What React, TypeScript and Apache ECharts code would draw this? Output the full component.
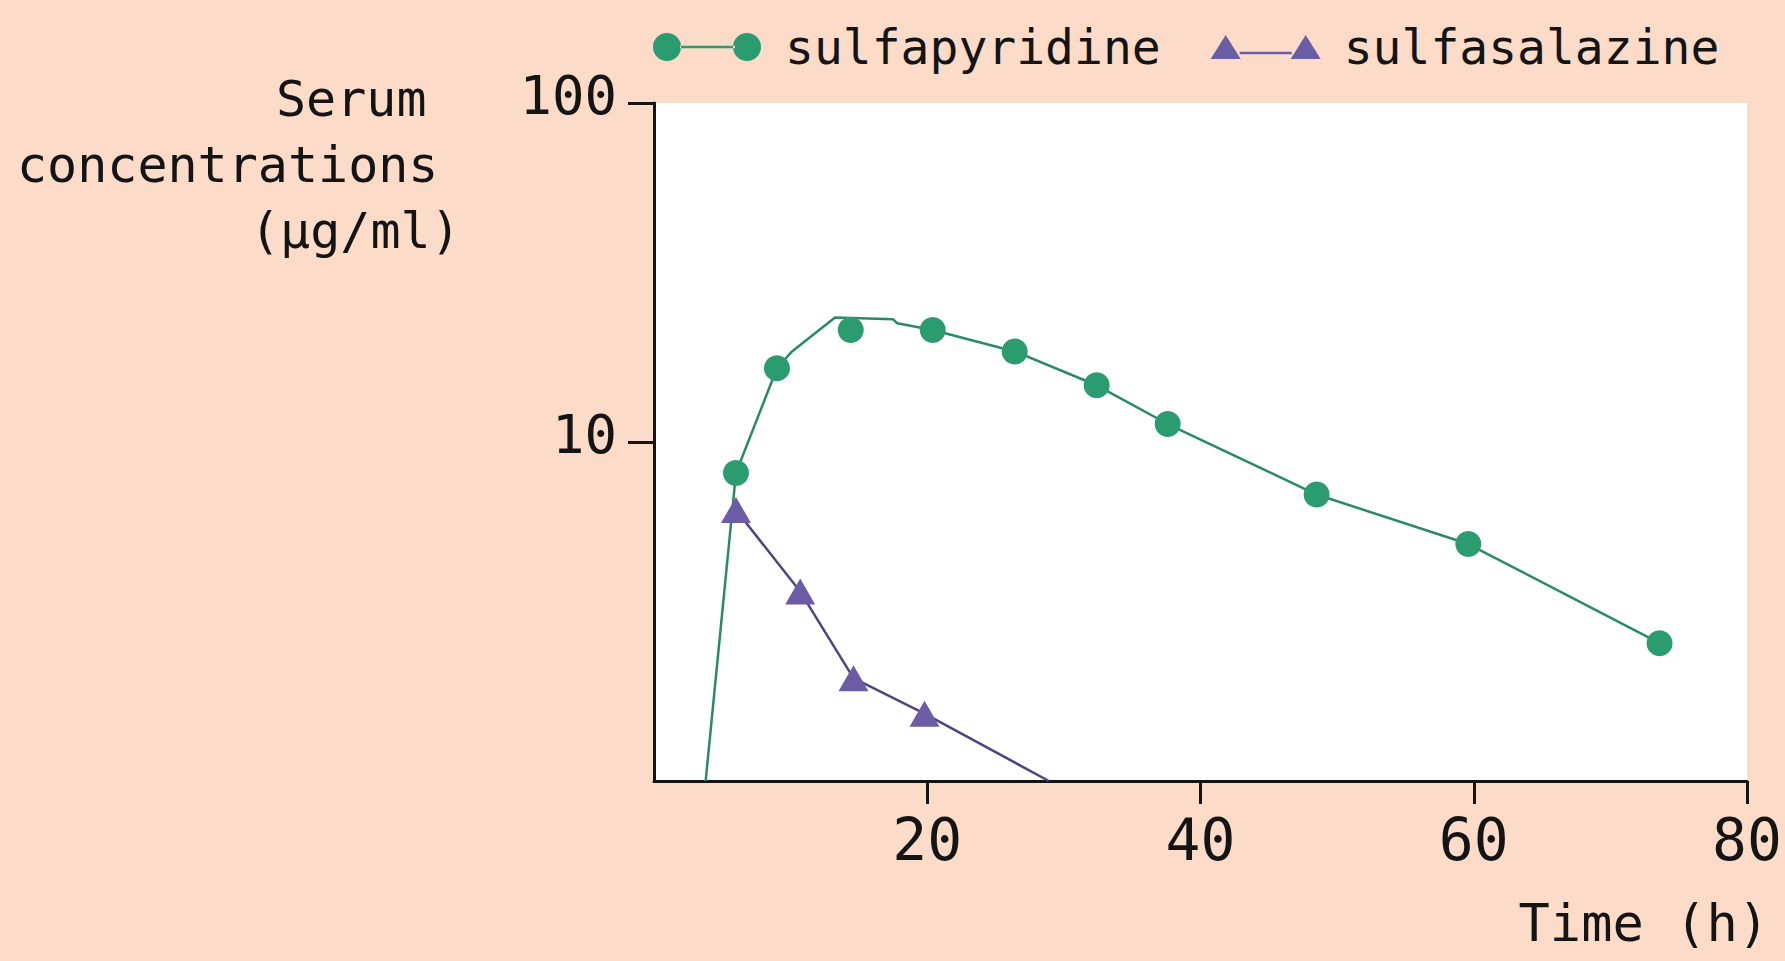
import React, { useEffect, useRef } from "react";
import * as echarts from "echarts";

// Observed concentrations (µg/ml) vs time (h)
const sulfapyridineTime = [6.0, 9.0, 14.4, 20.4, 26.4, 32.4, 37.6, 48.5, 59.6, 73.6];
const sulfapyridineConc = [8.1, 16.5, 21.4, 21.4, 18.5, 14.7, 11.3, 7.0, 5.0, 2.55];
// Connecting curve vertices
const sulfapyridineCurveTime = [3.78, 6.0, 9.0, 10.1, 13.25, 17.5, 17.8, 20.4, 26.4, 32.4, 37.6, 48.5, 59.6, 73.6];
const sulfapyridineCurveConc = [1.0, 8.1, 16.5, 18.5, 23.3, 23.0, 22.4, 21.4, 18.5, 14.7, 11.3, 7.0, 5.0, 2.55];

const sulfasalazineTime = [6.0, 10.7, 14.6, 19.8];
const sulfasalazineConc = [6.3, 3.62, 2.01, 1.58];
const sulfasalazineCurveTime = [6.0, 10.7, 14.6, 19.8, 28.9];
const sulfasalazineCurveConc = [6.3, 3.62, 2.01, 1.58, 1.0];

const xTicks = [20, 40, 60, 80];
const yTicks = [10, 100];
const seriesNames = ["sulfapyridine", "sulfasalazine"];

const GREEN = "#2a9c70";
const GREEN_LINE = "#2a8a68";
const PURPLE = "#6a5da6";
const PURPLE_LINE = "#4d4681";
const BG = "#fcdcc8";
const INK = "#141414";
const FONT = "'DejaVu Sans Mono', 'Liberation Mono', monospace";

const zip = (a: number[], b: number[]) => a.map((v, i) => [v, b[i]]);

const circleIcon =
  "path://M0,14a14,14 0 1,0 28,0a14,14 0 1,0 -28,0Z M27,12.8H82V15.2H27Z M80,14a14,14 0 1,0 28,0a14,14 0 1,0 -28,0Z";
const triIcon =
  "path://M0,28L15,4L30,28Z M29,20.8H81V23.2H29Z M80,28L95,4L110,28Z";

export default function App() {
  const ref = useRef<HTMLDivElement>(null);
  useEffect(() => {
    document.body.style.margin = "0";
    const chart = echarts.init(ref.current!, null, { renderer: "svg" });
    chart.setOption({
      animation: false,
      backgroundColor: BG,
      grid: {
        left: 654,
        top: 103,
        right: 38,
        bottom: 180,
        show: true,
        backgroundColor: "#ffffff",
        borderWidth: 0,
      },
      legend: {
        left: 648,
        top: 18,
        itemWidth: 110,
        itemHeight: 28,
        itemGap: 50,
        selectedMode: false,
        textStyle: { fontFamily: FONT, fontSize: 48, color: INK, padding: [0, 0, 0, 18] },
        data: [
          { name: seriesNames[0], icon: circleIcon },
          { name: seriesNames[1], icon: triIcon },
        ],
      },
      xAxis: {
        type: "value",
        min: 0,
        max: 80,
        interval: 20,
        splitLine: { show: false },
        axisLine: { show: true, lineStyle: { color: INK, width: 3 } },
        axisTick: { show: true, length: 23, lineStyle: { color: INK, width: 3 }, customValues: xTicks },
        axisLabel: { customValues: xTicks, fontFamily: FONT, fontSize: 58, color: INK, margin: 30 },
      },
      yAxis: {
        type: "log",
        logBase: 10,
        min: 1,
        max: 100,
        splitLine: { show: false },
        axisLine: { show: true, lineStyle: { color: INK, width: 3 } },
        axisTick: { show: true, length: 26, lineStyle: { color: INK, width: 3 }, customValues: yTicks },
        axisLabel: {
          customValues: yTicks,
          fontFamily: FONT,
          fontSize: 54,
          color: INK,
          margin: 37,
          verticalAlign: "bottom",
          lineHeight: 16,
        },
      },
      graphic: [
        { type: "text", left: 276, top: 74, style: { text: "Serum", font: `50px ${FONT}`, fill: INK } },
        { type: "text", left: 17, top: 140, style: { text: "concentrations", font: `50px ${FONT}`, fill: INK } },
        { type: "text", left: 250, top: 206, style: { text: "(µg/ml)", font: `50px ${FONT}`, fill: INK } },
        { type: "text", right: 16, top: 897, style: { text: "Time (h)", font: `52px ${FONT}`, fill: INK } },
      ],
      series: [
        {
          name: seriesNames[0],
          type: "line",
          data: zip(sulfapyridineCurveTime, sulfapyridineCurveConc),
          symbol: "none",
          itemStyle: { color: GREEN },
          lineStyle: { color: GREEN_LINE, width: 2.5 },
          z: 2,
          silent: true,
        },
        {
          name: seriesNames[0],
          type: "scatter",
          data: zip(sulfapyridineTime, sulfapyridineConc),
          symbol: "circle",
          symbolSize: 26,
          itemStyle: { color: GREEN, opacity: 1 },
          z: 4,
        },
        {
          name: seriesNames[1],
          type: "line",
          data: zip(sulfasalazineCurveTime, sulfasalazineCurveConc),
          symbol: "none",
          itemStyle: { color: PURPLE },
          lineStyle: { color: PURPLE_LINE, width: 2.5 },
          z: 2,
          silent: true,
        },
        {
          name: seriesNames[1],
          type: "scatter",
          data: zip(sulfasalazineTime, sulfasalazineConc),
          symbol: "triangle",
          symbolSize: [30, 26],
          itemStyle: { color: PURPLE, opacity: 1 },
          z: 4,
        },
      ],
    });
    return () => chart.dispose();
  }, []);
  return <div ref={ref} style={{ width: 1785, height: 961 }} />;
}
